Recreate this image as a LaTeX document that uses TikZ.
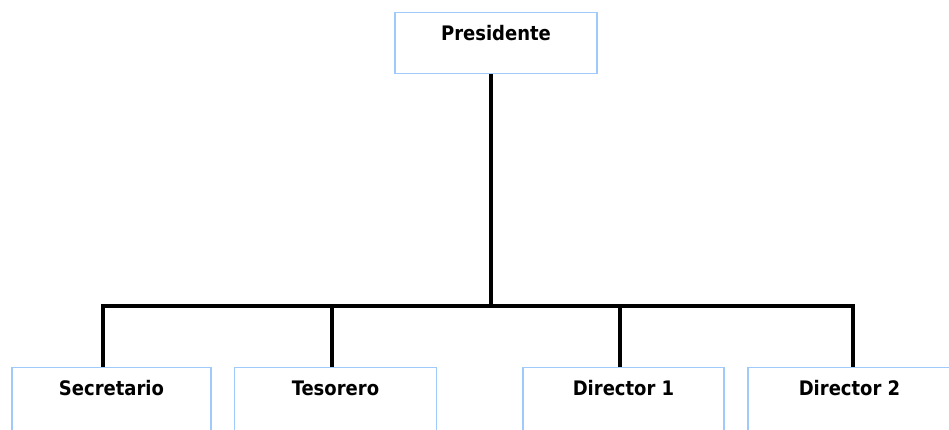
\documentclass[tikz,border=0pt]{standalone}
\usepackage{fontspec}
\setmainfont{DejaVu Sans Condensed}
\usepackage{tikz}
\definecolor{boxblue}{RGB}{160,202,250}

\begin{document}
\begin{tikzpicture}[x=1pt,y=-1pt]
\tikzstyle{every node}+=[inner sep=0pt]
\tikzstyle{cargo}=[draw=boxblue,line width=1.4pt,fill=white,minimum width=201pt,
  text height=28pt,text depth=33pt,anchor=north,font=\bfseries\fontsize{20}{22}\selectfont]
\tikzstyle{rama}=[black,line width=3.4pt]
\clip (0,0) rectangle (949,430);
\useasboundingbox (0,0) rectangle (949,430);
\node [cargo,minimum width=202pt] (pres) at (496,12) {Presidente};
% los de abajo siguen fuera del dibujo
\node [cargo,minimum width=199pt,text depth=60pt] (secr) at (111.5,367) {Secretario};
\node [cargo,minimum width=202pt,text depth=60pt] (teso) at (335.5,367) {Tesorero};
\node [cargo,text depth=60pt] (dir1) at (623.5,367) {Director 1};
\node [cargo,minimum width=203pt,text depth=60pt] (dir2) at (849.5,367) {Director 2};
\coordinate (bus) at (491,306);
\coordinate (bsec) at (103,306);
\coordinate (bteso) at (332,306);
\coordinate (bdir1) at (620,306);
\coordinate (bdir2) at (853,306);
\draw [rama] (pres.south -| bus) -- (bus);
\draw [rama] (bsec |- secr.north) -- (bsec) -- (bdir2) -- (bdir2 |- dir2.north);
\draw [rama] (bteso) -- (bteso |- teso.north);
\draw [rama] (bdir1) -- (bdir1 |- dir1.north);
\end{tikzpicture}
\end{document}
